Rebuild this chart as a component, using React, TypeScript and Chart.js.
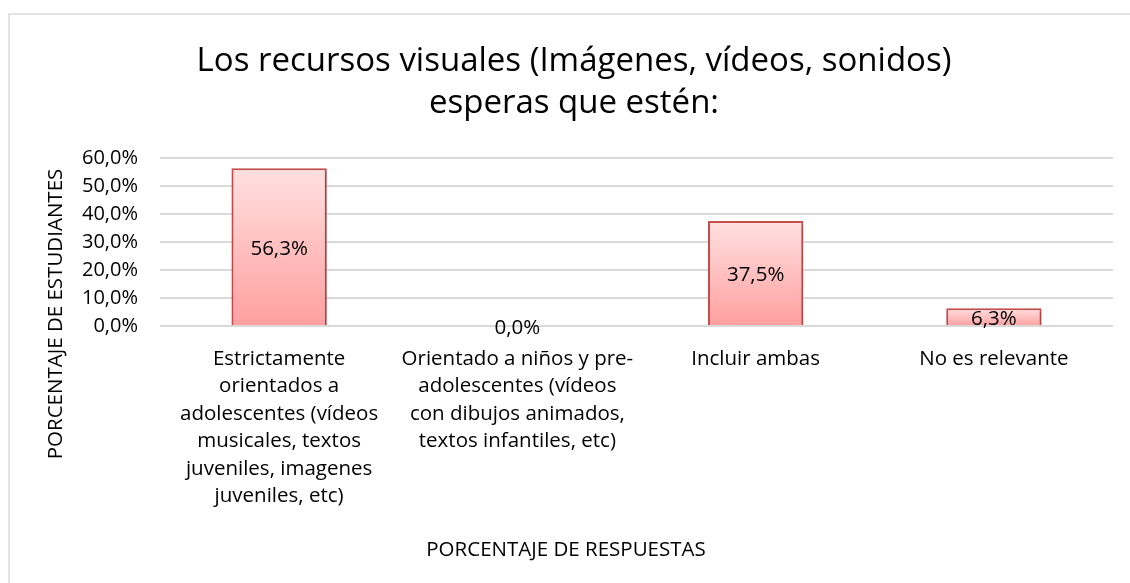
import React, { useEffect, useRef } from "react";
import { Chart, registerables } from "chart.js";

Chart.register(...registerables);

const TITLE_LINES = ["Los recursos visuales (Imágenes, vídeos, sonidos)", "esperas que estén:"];
const CATEGORIES: string[][] = [
  ["Estrictamente", "orientados a", "adolescentes (vídeos", "musicales, textos", "juveniles, imagenes", "juveniles, etc)"],
  ["Orientado a niños y pre-", "adolescentes (vídeos", "con dibujos animados,", "textos infantiles, etc)"],
  ["Incluir ambas"],
  ["No es relevante"],
];
const VALUES = [56.3, 0.0, 37.5, 6.3];
const Y_TICKS = [0, 10, 20, 30, 40, 50, 60];
const Y_TITLE = "PORCENTAJE DE ESTUDIANTES";
const X_TITLE = "PORCENTAJE DE RESPUESTAS";

const FONT = "'Open Sans', 'Noto Sans', sans-serif";
const fmt = (v: number) => v.toFixed(1).replace(".", ",") + "%";

export default function App() {
  const ref = useRef<HTMLCanvasElement | null>(null);
  useEffect(() => {
    if (!ref.current) return;
    const decor = {
      id: "decor",
      beforeDraw(chart: any) {
        const ctx = chart.ctx;
        ctx.save();
        ctx.fillStyle = "#ffffff";
        ctx.fillRect(0, 0, chart.width, chart.height);
        ctx.strokeStyle = "#d9d9d9";
        ctx.lineWidth = 1.5;
        ctx.strokeRect(9, 14, chart.width + 10, chart.height + 10);
        ctx.restore();
      },
      afterDraw(chart: any) {
        const ctx = chart.ctx;
        ctx.save();
        ctx.fillStyle = "#000";
        ctx.textAlign = "center";
        ctx.textBaseline = "middle";
        ctx.font = `33px ${FONT}`;
        ctx.fillText(TITLE_LINES[0], 574, 62);
        ctx.fillText(TITLE_LINES[1], 574, 104);
        ctx.font = `20.5px ${FONT}`;
        ctx.fillText(X_TITLE, 566, 550);
        ctx.translate(56, 314);
        ctx.rotate(-Math.PI / 2);
        ctx.fillText(Y_TITLE, 0, 0);
        ctx.restore();
      },
    };
    const shadow = {
      id: "barShadow",
      beforeDatasetsDraw(chart: any) {
        const ctx = chart.ctx;
        ctx.save();
        ctx.shadowColor = "rgba(0,0,0,0.25)";
        ctx.shadowBlur = 4;
        ctx.shadowOffsetX = 1;
        ctx.shadowOffsetY = 2;
      },
      afterDatasetsDraw(chart: any) {
        chart.ctx.restore();
        const ctx = chart.ctx;
        ctx.save();
        ctx.fillStyle = "#000";
        ctx.font = `20.5px ${FONT}`;
        ctx.textAlign = "center";
        ctx.textBaseline = "middle";
        const meta = chart.getDatasetMeta(0);
        meta.data.forEach((el: any, i: number) => {
          const v = chart.data.datasets[0].data[i];
          ctx.fillText(fmt(v), el.x, (el.y + el.base) / 2 + 2);
        });
        ctx.restore();
      },
    };
    const chart = new Chart(ref.current, {
      type: "bar",
      data: {
        labels: CATEGORIES,
        datasets: [
          {
            data: VALUES,
            backgroundColor: (c: any) => {
              const ch = c.chart;
              const ys = ch.scales && ch.scales.y;
              if (!ys || c.raw === undefined) return "#ffb3b3";
              const top = ys.getPixelForValue(c.raw);
              const base = ys.getPixelForValue(0);
              if (!isFinite(top) || Math.abs(base - top) < 1) return "#ffb3b3";
              const g = ch.ctx.createLinearGradient(0, top, 0, base);
              g.addColorStop(0, "#ffe0e0");
              g.addColorStop(1, "#ff9f9f");
              return g;
            },
            borderColor: "#c9504e",
            borderWidth: 2,
            barPercentage: 0.4,
            categoryPercentage: 1,
          },
        ],
      },
      options: {
        animation: false,
        responsive: false,
        events: [],
        layout: { padding: { top: 158, right: 17, left: 0, bottom: 0 } },
        plugins: { legend: { display: false }, tooltip: { enabled: false }, title: { display: false } },
        scales: {
          x: {
            grid: { display: false, drawTicks: false },
            border: { display: false },
            ticks: {
              color: "#000",
              font: { family: FONT, size: 20.5, lineHeight: "27.5px" } as any,
              padding: 19,
              maxRotation: 0,
              autoSkip: false,
            },
            afterFit: (s: any) => {
              s.height = 257;
            },
          },
          y: {
            min: 0,
            max: 60,
            afterBuildTicks: (s: any) => {
              s.ticks = Y_TICKS.map((v) => ({ value: v }));
            },
            grid: { color: "#d9d9d9", lineWidth: 2, drawTicks: false },
            border: { display: false },
            ticks: {
              color: "#000",
              font: { family: FONT, size: 20 },
              padding: 22,
              callback: (v: any) => fmt(Number(v)),
            },
            afterFit: (s: any) => {
              s.width = 160;
            },
          },
        },
      },
      plugins: [decor, shadow],
    } as any);
    return () => chart.destroy();
  }, []);
  return (
    <div style={{ position: "fixed", left: 0, top: 0, width: 1130, height: 583 }}>
      <canvas ref={ref} width={1130} height={583} style={{ display: "block", width: 1130, height: 583 }} />
    </div>
  );
}
